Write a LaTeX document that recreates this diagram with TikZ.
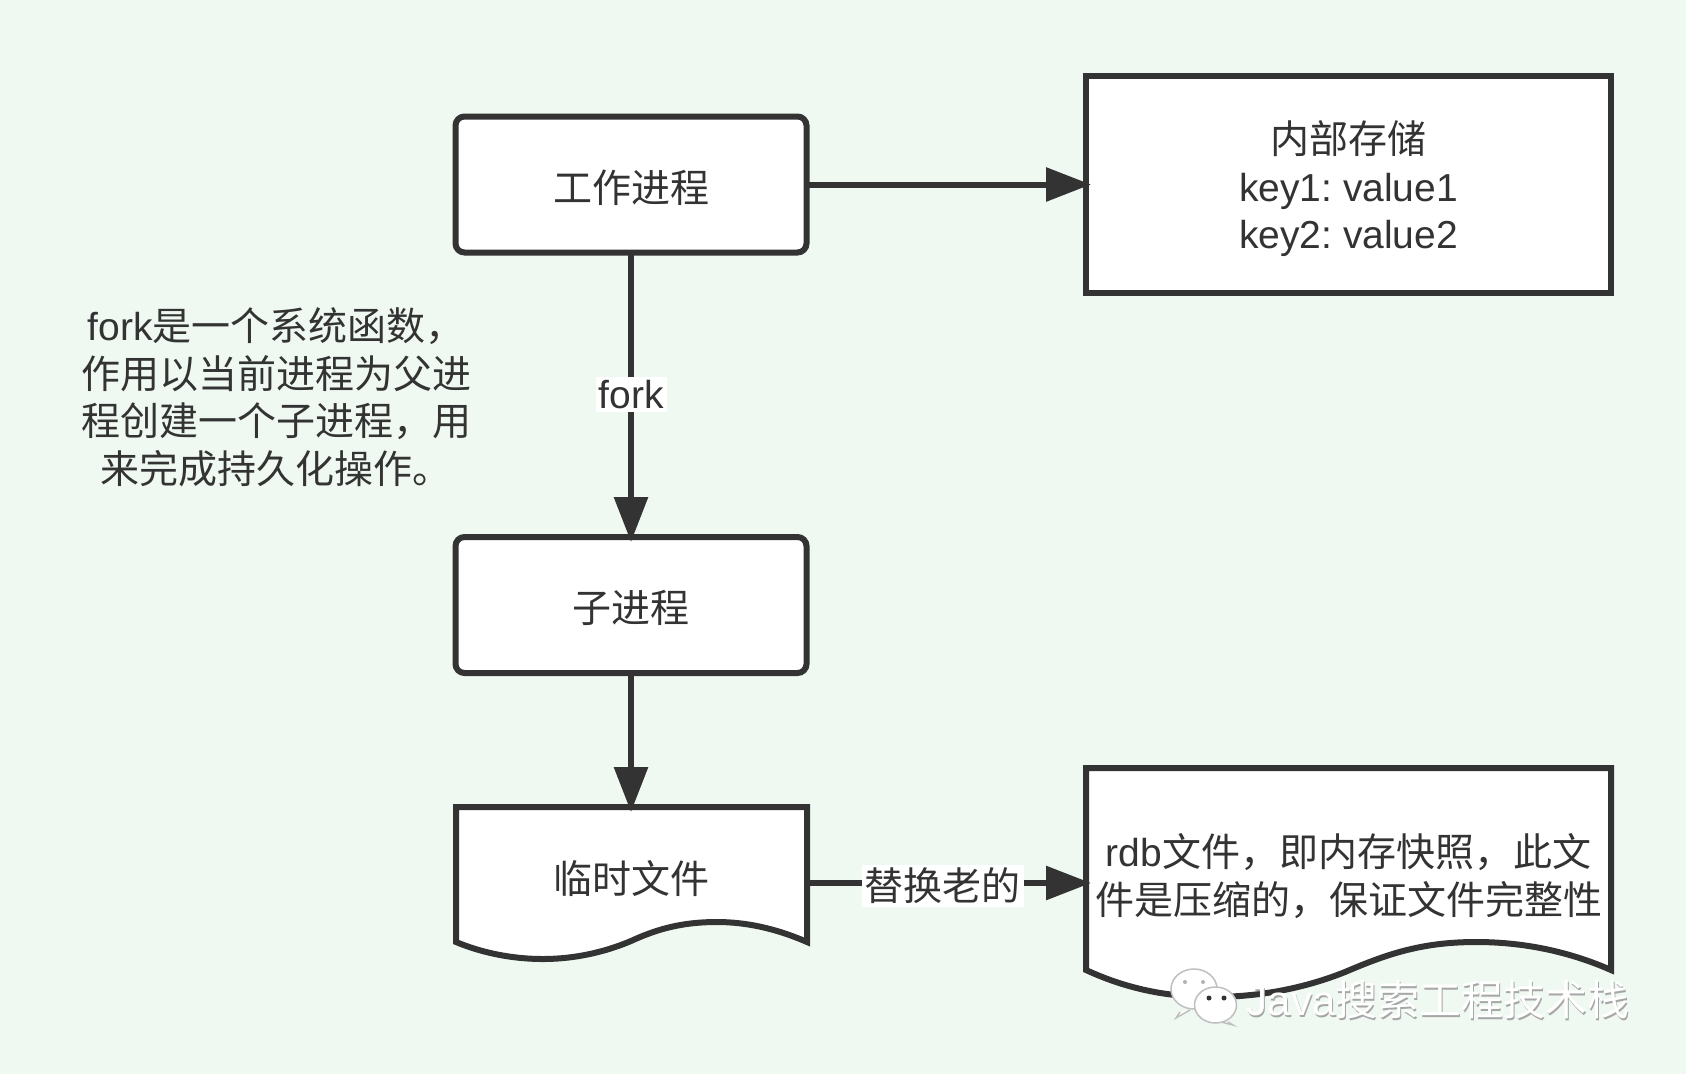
\documentclass[tikz,border=0pt]{standalone}
\usepackage{fontspec}
\setmainfont{Liberation Sans}
\newfontfamily\cjk{Noto Sans CJK SC}
\newcommand{\zh}[1]{{\cjk #1}}
\usetikzlibrary{arrows.meta,positioning,calc}
\definecolor{bgcol}{HTML}{EFF9F1}
\definecolor{inkcol}{HTML}{333333}
\begin{document}
\frenchspacing
\begin{tikzpicture}[x=1pt,y=-1pt,line width=6pt,>={Triangle[length=45pt,width=33pt]},
  font=\fontsize{39}{47.5}\selectfont,text=inkcol,
  rbox/.style={draw=inkcol,fill=white,rounded corners=9pt,minimum width=351pt,minimum height=136pt,outer sep=0pt,text height=40pt,text depth=5pt},
  sbox/.style={draw=inkcol,fill=white,minimum width=525pt,minimum height=217pt,outer sep=0pt},
  frame/.style={inner sep=0pt,outer sep=0pt},
  doctext/.style={align=center,inner sep=0pt},
  lab/.style={fill=white,inner sep=3pt},
  link/.style={draw=inkcol,->,shorten >=-5pt},
  docline/.style={draw=inkcol,fill=white,line join=miter},
  bubble/.style={draw=black!25,fill=white,line width=1.5pt},
  marktext/.style={inner sep=0pt,font=\fontsize{42}{50}\selectfont}]
  \useasboundingbox (0,0) rectangle (1686,1074);
  \fill[bgcol] (0,0) rectangle (1686,1074);
  \draw[docline] (456,807) -- (807,807) -- (807,942) .. controls (775,928) and (745,922) .. (717,922) .. controls (680,922) and (655,930) .. (631,941) .. controls (605,952) and (575,959) .. (543,959) .. controls (510,959) and (480,952) .. (456,942) -- cycle;
  \draw[docline] (1086,768) -- (1611,768) -- (1611,970) .. controls (1570,952) and (1525,942) .. (1476,942) .. controls (1420,942) and (1385,955) .. (1345,972) .. controls (1305,988) and (1260,997) .. (1212,997) .. controls (1165,997) and (1125,988) .. (1086,970) -- cycle;
  \node[rbox] (work) at (631,184.5) {\zh{工作进程}};
  \node[rbox] (child) at (631,605) {\zh{子进程}};
  \node[sbox] (store) at (1348.5,184.5) {};
  \node[frame,minimum width=351pt,minimum height=152pt] (temp) at (631,883) {};
  \node[frame,minimum width=525pt,minimum height=230pt] (rdb) at (1348.5,883) {};
  \node[doctext] (storetext) at (1348.5,189) {\zh{内部存储}\\key1: value1\\key2: value2};
  \node[doctext] (temptext) at (631,879) {\zh{临时文件}};
  \node[doctext] (rdbtext) at (1348.5,876) {rdb\zh{文件，即内存快照，此文}\\\zh{件是压缩的，保证文件完整性}};
  \node[doctext] (note) at (276,397) {fork\zh{是一个系统函数，}\\\zh{作用以当前进程为父进}\\\zh{程创建一个子进程，用}\\\zh{来完成持久化操作。}};
  \draw[link] (work) -- (store);
  \draw[link] (work) -- node[lab] {fork} (child);
  \draw[link] (child) -- (temp);
  \draw[link] (temp) -- node[lab,pos=.487,yshift=-3pt] {\zh{替换老的}} (rdb);
  \draw[bubble] (1180,1012) -- (1176,1018) -- (1190,1010);
  \draw[bubble] (1194,989) ellipse (23 and 20);
  \fill[black!30] (1185,982) circle (2) (1203,982) circle (2);
  \draw[bubble] (1228,1022) -- (1233,1025) -- (1221,1022);
  \draw[bubble] (1215.5,1005) ellipse (21 and 18);
  \fill[inkcol] (1209,998) circle (2.5) (1224,998) circle (2.5);
  \node[marktext,text=black!35] (markshadow) at (1439,1002) {Java\zh{搜索工程技术栈}};
  \node[marktext,text=white] (mark) at (1438,1000) {Java\zh{搜索工程技术栈}};
\end{tikzpicture}
\end{document}
